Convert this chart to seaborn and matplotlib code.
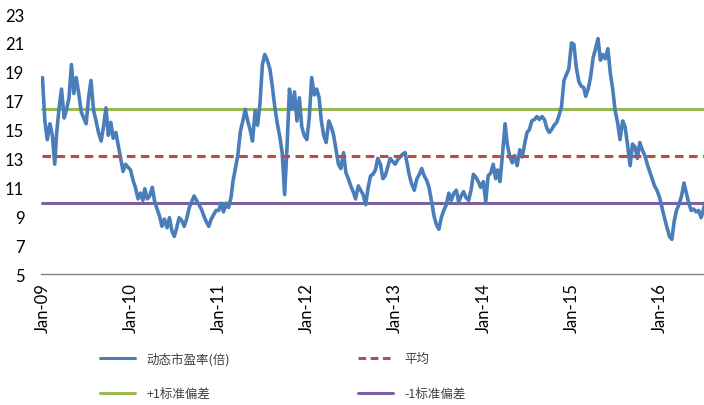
import matplotlib
matplotlib.use("Agg")
import matplotlib.pyplot as plt
import matplotlib.dates as mdates
from matplotlib.lines import Line2D
import seaborn as sns
import pandas as pd

# ---- data (dekadal readings: 1st, 11th, 21st of each month) ----
pe_2009 = [18.6, 15.6, 14.3, 15.4, 14.6, 12.6, 14.8, 16.5, 17.8, 15.8, 16.4, 17.2,
           19.5, 17.5, 18.6, 17.4, 16.2, 15.8, 15.4, 17.2, 18.4, 16.3, 15.6, 14.8,
           14.2, 15.2, 16.5, 14.6, 15.5, 14.4, 14.8, 13.9, 13.0, 12.1, 12.6, 12.4]
pe_2010 = [12.2, 11.5, 11.0, 10.2, 10.6, 10.1, 10.9, 10.2, 10.4, 11.0, 10.0, 9.5,
           9.0, 8.3, 8.8, 8.2, 8.9, 8.0, 7.6, 8.2, 8.9, 8.7, 8.3, 8.8,
           9.6, 10.0, 10.4, 10.1, 9.8, 9.5, 9.0, 8.6, 8.3, 8.8, 9.1, 9.4]
pe_2011 = [9.4, 9.9, 9.3, 9.9, 9.6, 10.3, 11.4, 12.3, 13.2, 14.9, 15.6, 16.4,
           15.6, 15.0, 14.2, 16.3, 15.3, 16.8, 19.5, 20.2, 19.8, 19.2, 18.0, 16.6,
           15.4, 14.5, 13.4, 10.5, 13.8, 17.8, 16.4, 17.6, 15.6, 17.2, 15.2, 14.6]
pe_2012 = [14.3, 15.8, 18.6, 17.4, 17.8, 17.2, 15.6, 14.6, 14.1, 15.6, 15.2, 14.6,
           13.6, 12.6, 12.3, 13.4, 12.0, 11.6, 11.1, 10.7, 10.2, 11.1, 10.8, 10.5,
           9.8, 11.0, 11.8, 11.9, 12.2, 13.0, 12.6, 11.6, 11.8, 12.4, 13.0, 12.8]
pe_2013 = [12.6, 12.9, 13.1, 13.3, 13.4, 12.5, 11.8, 11.2, 10.8, 11.6, 11.9, 12.3,
           11.8, 11.5, 11.0, 10.0, 9.0, 8.4, 8.1, 8.9, 9.4, 9.8, 10.6, 10.1,
           10.6, 10.8, 10.0, 10.4, 10.7, 10.3, 10.1, 10.8, 11.9, 11.7, 11.4, 11.0]
pe_2014 = [11.4, 10.0, 11.8, 12.0, 12.6, 11.6, 12.2, 11.4, 13.2, 15.4, 13.9, 13.1,
           12.7, 13.2, 12.5, 13.6, 13.1, 14.0, 14.8, 15.0, 15.6, 15.7, 15.9, 15.7,
           15.9, 15.7, 15.1, 14.8, 15.0, 15.3, 15.5, 16.0, 16.6, 18.4, 18.8, 19.2]
pe_2015 = [21.0, 20.9, 19.3, 18.3, 18.0, 17.9, 17.3, 17.8, 18.6, 20.0, 20.6, 21.3,
           19.8, 20.2, 19.9, 20.6, 18.9, 17.8, 16.3, 15.5, 14.3, 15.6, 15.2, 14.0,
           12.5, 14.0, 13.8, 13.0, 14.1, 13.6, 13.2, 12.6, 12.1, 11.6, 11.1, 10.8]
pe_2016 = [10.3, 9.6, 8.9, 8.2, 7.6, 7.4, 8.6, 9.4, 9.8, 10.4, 11.3, 10.6,
           9.9, 9.4, 9.5, 9.3, 9.4, 8.9, 9.5, 10.2]

years = [2009, 2010, 2011, 2012, 2013, 2014, 2015, 2016]
pe_by_year = [pe_2009, pe_2010, pe_2011, pe_2012, pe_2013, pe_2014, pe_2015, pe_2016]

mean_pe = 13.15
plus_sd = 16.42
minus_sd = 9.9

y_ticks = [5, 7, 9, 11, 13, 15, 17, 19, 21, 23]
series_labels = ["动态市盈率(倍)", "平均", "+1标准偏差", "-1标准偏差"]

# ---- build frame ----
dates, vals = [], []
for yr, arr in zip(years, pe_by_year):
    k = 0
    for m in range(1, 13):
        for d in (1, 11, 21):
            if k < len(arr):
                dates.append(pd.Timestamp(yr, m, d))
                vals.append(arr[k])
                k += 1
df = pd.DataFrame({"date": dates, "pe": vals})
df["mean"] = mean_pe
df["plus"] = plus_sd
df["minus"] = minus_sd

# ---- style ----
sns.set_style("white")
plt.rcParams["font.family"] = ["Lato", "DejaVu Sans"]

c_blue = "#4A7EBB"
c_red = "#BE4B48"
c_green = "#98B954"
c_purple = "#7D60A0"

fig = plt.figure(figsize=(7.04, 4.06), dpi=100)
ax = fig.add_axes([41 / 704, 1 - 275 / 406, 1 - 41 / 704, (275 - 15) / 406])

sns.lineplot(data=df, x="date", y="plus", ax=ax, color=c_green, linewidth=2.2)
sns.lineplot(data=df, x="date", y="minus", ax=ax, color=c_purple, linewidth=2.2)
sns.lineplot(data=df, x="date", y="pe", ax=ax, color=c_blue, linewidth=2.6)
ax.plot(df["date"], df["mean"], color=c_red, linewidth=2.2, dashes=(2.8, 1.8))

ax.set_ylim(5, 23)
ax.set_yticks(y_ticks)
ax.set_xlim(pd.Timestamp(2008, 12, 26), pd.Timestamp(2016, 7, 3))
ax.xaxis.set_major_locator(mdates.YearLocator())
ax.xaxis.set_major_formatter(mdates.DateFormatter("%b-%y"))
ax.set_xlabel("")
ax.set_ylabel("")

for lbl in ax.get_xticklabels():
    lbl.set_rotation(90)
ax.tick_params(axis="x", labelsize=12, length=0, pad=6, colors="black")
ax.tick_params(axis="y", labelsize=12, length=0, pad=12, colors="black")

for s in ["left", "right", "top"]:
    ax.spines[s].set_visible(False)
ax.spines["bottom"].set_color("#868686")
ax.spines["bottom"].set_linewidth(1.0)
ax.grid(False)

# ---- legends ----
cjk = ["Noto Sans CJK SC", "DejaVu Sans"]
h1 = [Line2D([], [], color=c_blue, lw=2.2), Line2D([], [], color=c_green, lw=2.2)]
h2 = [Line2D([], [], color=c_red, lw=2.2, dashes=(2.5, 1.5)),
      Line2D([], [], color=c_purple, lw=2.2)]
common = dict(loc="upper left", frameon=False, borderpad=0, borderaxespad=0,
              handlelength=2.8, handletextpad=0.9, labelspacing=1.75,
              prop={"family": cjk, "size": 9}, labelcolor="#404040")
leg1 = fig.legend(h1, [series_labels[0], series_labels[2]],
                  bbox_to_anchor=(100 / 704, 1 - 353 / 406), **common)
leg2 = fig.legend(h2, [series_labels[1], series_labels[3]],
                  bbox_to_anchor=(358 / 704, 1 - 353 / 406), **common)

fig.savefig("out.png", dpi=100)
